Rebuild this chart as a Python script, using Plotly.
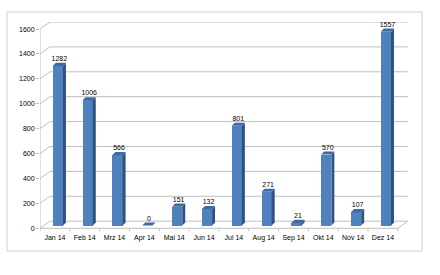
import plotly.graph_objects as go

months = ["Jan 14", "Feb 14", "Mrz 14", "Apr 14", "Mai 14", "Jun 14",
          "Jul 14", "Aug 14", "Sep 14", "Okt 14", "Nov 14", "Dez 14"]
values = [1282, 1006, 566, 0, 151, 132, 801, 271, 21, 570, 107, 1557]
y_ticks = [0, 200, 400, 600, 800, 1000, 1200, 1400, 1600]

idx = list(range(len(months)))

# 3D geometry (category / value units)
DX, DY = 0.335, 57          # back wall offset
BASE = 22                   # bar front face lifted from front floor
OFF, W = -0.07, 0.34        # bar front face offset & width
SDX, SDY = 0.10, 25         # bar depth

FRONT = "#4F81BD"
SIDE = "#2F5286"
TOP = "#3E69A3"
GRID = "#BFBFBF"

fig = go.Figure()

shapes = []
x0, x1 = -0.5, len(months) - 0.5
for v in y_ticks:
    shapes.append(dict(type="path", xref="x", yref="y", layer="below",
                       path=f"M {x0},{v} L {x0+DX},{v+DY} L {x1+DX},{v+DY}",
                       line=dict(color=GRID, width=1)))
# floor front edge and right edge
shapes.append(dict(type="path", xref="x", yref="y", layer="below",
                   path=f"M {x0},0 L {x1},0 L {x1+DX},{DY}",
                   line=dict(color=GRID, width=1)))
# front vertical axis
shapes.append(dict(type="line", xref="x", yref="y", layer="below",
                   x0=x0, x1=x0, y0=0, y1=y_ticks[-1],
                   line=dict(color=GRID, width=1)))
# category boundary ticks
for i in range(len(months) + 1):
    xb = i - 0.5
    shapes.append(dict(type="line", xref="x", yref="y", layer="below",
                       x0=xb, x1=xb, y0=0, y1=-25,
                       line=dict(color=GRID, width=1)))
# chart border
shapes.append(dict(type="rect", xref="paper", yref="paper",
                   x0=(7-40)/368, x1=(422-40)/368,
                   y0=(232-251)/210, y1=(232-12)/210,
                   line=dict(color="#D0D0D0", width=1)))

fig.add_trace(go.Bar(x=idx, y=values, base=BASE, width=W, offset=OFF,
                     marker=dict(color=FRONT, line=dict(width=0)),
                     showlegend=False, hoverinfo="skip"))

for i, v in zip(idx, values):
    xl = i + OFF
    xr = i + OFF + W
    top = v + BASE
    # side face
    fig.add_trace(go.Scatter(
        x=[xr, xr + SDX, xr + SDX, xr, xr],
        y=[BASE, BASE + SDY, top + SDY, top, BASE],
        mode="lines", fill="toself", fillcolor=SIDE,
        line=dict(width=0, color=SIDE), showlegend=False, hoverinfo="skip"))
    # top face
    fig.add_trace(go.Scatter(
        x=[xl, xr, xr + SDX, xl + SDX, xl],
        y=[top, top, top + SDY, top + SDY, top],
        mode="lines", fill="toself", fillcolor=TOP,
        line=dict(width=0, color=TOP), showlegend=False, hoverinfo="skip"))

fig.add_trace(go.Scatter(
    x=[i + OFF + W / 2 + SDX / 2 for i in idx],
    y=[v + BASE + SDY for v in values],
    mode="text", text=[str(v) for v in values], textposition="top center",
    textfont=dict(size=7, color="#000000", family="Liberation Sans"),
    showlegend=False, hoverinfo="skip", cliponaxis=False))

fig.update_layout(
    width=440, height=275,
    margin=dict(l=40, r=32, t=22, b=43),
    paper_bgcolor="white", plot_bgcolor="rgba(0,0,0,0)",
    font=dict(family="Liberation Sans", size=7, color="#000000"),
    shapes=shapes, bargap=0,
    xaxis=dict(range=[-0.5, 11.84], tickvals=idx, ticktext=months,
               showgrid=False, zeroline=False, showline=False, ticks="",
               tickfont=dict(size=7)),
    yaxis=dict(range=[-30, 1657], tickvals=y_ticks, showgrid=False,
               zeroline=False, showline=False, ticks="outside", ticklen=3,
               tickcolor=GRID, tickfont=dict(size=7)),
)

fig.write_html("out.html")
